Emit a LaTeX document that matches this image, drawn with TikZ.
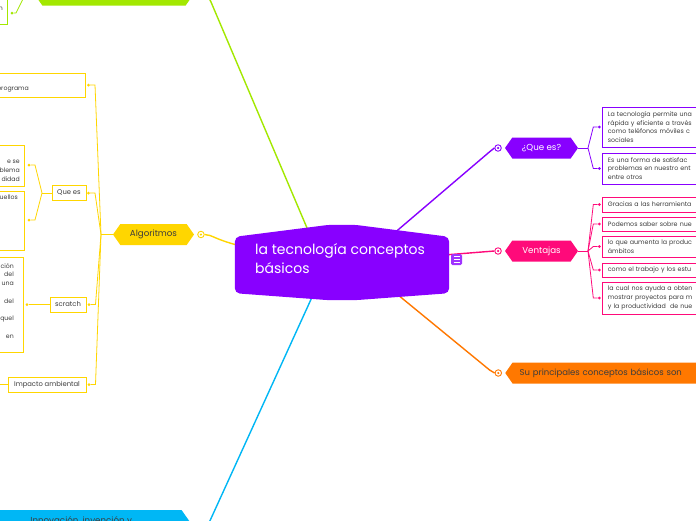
\documentclass[tikz,border=0pt]{standalone}
\usepackage{fontspec}
\setmainfont{Poppins}
\usepackage{xcolor}
\usepackage{tikz}
\usetikzlibrary{shapes.symbols, positioning, calc}

\definecolor{mmpurple}{HTML}{8800FF}
\definecolor{mmpink}{HTML}{FF0A7A}
\definecolor{mmorange}{HTML}{FF7800}
\definecolor{mmyellow}{HTML}{FFD600}
\definecolor{mmgreen}{HTML}{A3E800}
\definecolor{mmblue}{HTML}{00B7F5}
\definecolor{mmtext}{HTML}{3C3C3C}

\pgfdeclarelayer{backdrop}
\pgfdeclarelayer{background}
\pgfsetlayers{backdrop,background,main}

\begin{document}
\begin{tikzpicture}[x=1pt, y=-1pt,
    rootbox/.style={rectangle, minimum width=214pt, minimum height=56pt, inner sep=0pt},
    roottext/.style={align=left, inner sep=0pt, text=white,
                     font=\fontsize{14}{19}\selectfont},
    hub/.style={signal, signal to=east and west, signal pointer angle=110,
                fill=#1, minimum height=21pt, inner sep=2pt,
                font=\fontsize{8.7}{10}\selectfont, text=mmtext},
    subhub/.style={rectangle, draw=#1, fill=white, line width=0.8pt,
                   minimum height=14.5pt, inner sep=1pt,
                   font=\fontsize{6.8}{8}\selectfont, text=mmtext},
    leaf/.style={rectangle, draw=#1, fill=white, line width=0.8pt,
                 text width=125pt, align=left, inner xsep=5.5pt, inner ysep=0pt,
                 anchor=west, font=\fontsize{6.3}{8.8}\selectfont, text=mmtext},
    blank/.style={rectangle, draw=#1, fill=white, line width=0.8pt, inner sep=0pt},
    leaftext/.style={inner sep=0pt, align=right,
                     font=\fontsize{6.2}{8.8}\selectfont, text=mmtext},
    knob/.style={circle, draw=#1, fill=white, line width=0.9pt,
                 minimum size=6.5pt, inner sep=0pt,
                 path picture={\fill[#1] (path picture bounding box.center) circle (1.2pt);}},
    tip/.style={circle, fill=#1, minimum size=3pt, inner sep=0pt},
    link/.style={draw=#1, line width=1.4pt},
    twig/.style={draw=#1, line width=0.8pt},
  ]
    \useasboundingbox (0,0) rectangle (696,520);
    \clip (0,0) rectangle (696,520);
    \begin{pgfonlayer}{backdrop}
      \fill[white] (0,0) rectangle (696,520);
    \end{pgfonlayer}

    % ── Central topic ────────────────────────────
    \node[rootbox] (root) at (342,265) {};
    \fill[mmpurple, rounded corners=5pt] (root.north west)
      -- ($(root.north west)!0.44!(root.north east)+(0,-12)$)
      -- ($(root.north west)!0.56!(root.north east)+(0,-12)$)
      -- (root.north east) -- (root.south east)
      -- ($(root.south west)!0.56!(root.south east)+(0,7)$)
      -- ($(root.south west)!0.44!(root.south east)+(0,7)$)
      -- (root.south west) -- cycle;
    % base of a multi-line node = its last line
    \node[roottext, anchor=base west] (roottitle) at (255,273.5) {la tecnología conceptos\\básicos};
    \node[rectangle, rounded corners=1.5pt, fill=mmpurple!80!white, minimum size=11pt,
          inner sep=0pt, path picture={
            \foreach \dy in {-3,0,3}
              \draw[white, line width=0.8pt] ($(path picture bounding box.center)+(-3,\dy)$) -- ++(6,0);
          }] (menu) at (456.5,259.5) {};

    % ── Green branch (top) ───────────────────────
    \node[hub=mmgreen, minimum width=158pt] (ghub) at (114,-5) {};
    \node[knob=mmgreen, right=3pt of ghub] (gknob) {};
    \node[blank=mmgreen, anchor=south east, minimum width=50pt, minimum height=45pt] (gleaf) at (8,25) {};
    \node[leaftext, anchor=base east] (gleaftxt) at (3,10) {n};
    \node[tip=mmgreen] (gleaftip) at (12,13) {};

    % ── Algoritmos ───────────────────────────────
    \node[hub=mmyellow, minimum width=81pt] (ahub) at (153.5,234.5) {Algoritmos};
    \node[knob=mmyellow, right=3pt of ahub] (aknob) {};
    \coordinate (afork) at (101,234.5);

    \node[blank=mmyellow, anchor=east, minimum width=140pt, minimum height=24pt] (aprog) at (86,85) {};
    \node[leaftext, anchor=base east] (aprogtxt) at (29,90.5) {programa};
    \node[tip=mmyellow] (aprogtip) at (88.5,85) {};

    \node[subhub=mmyellow, minimum width=34pt] (aques) at (69,193) {Que es};
    \node[tip=mmyellow] (aquestip) at (88.5,193) {};
    \coordinate (aquesfork) at (42,193);
    \node[blank=mmyellow, anchor=east, minimum width=60pt, minimum height=41pt] (aques1) at (25,165.5) {};
    \node[leaftext, anchor=base east] (aques1txt) at (20,181.5) {e se\\blema\\didad};
    \node[tip=mmyellow] (aques1tip) at (29,165) {};
    \node[blank=mmyellow, anchor=east, minimum width=60pt, minimum height=59pt] (aques2) at (25,220.5) {};
    \node[leaftext, anchor=base east] (aques2txt) at (18,199.5) {uellos};
    \node[tip=mmyellow] (aques2tip) at (29,220) {};

    \node[subhub=mmyellow, minimum width=36pt, minimum height=15pt] (ascratch) at (68,304.5) {scratch};
    \node[tip=mmyellow] (ascratchtip) at (89,304.5) {};
    \node[blank=mmyellow, anchor=east, minimum width=60pt, minimum height=95pt] (ascr1) at (24,304.5) {};
    \node[leaftext, anchor=base east] (ascr1txt) at (14,338.5)
      {ción\\del\\una\\[8.8pt]del\\[8.8pt]quel\\[8.8pt]en};
    \node[tip=mmyellow] (ascr1tip) at (27,304.5) {};

    \node[subhub=mmyellow, minimum width=78pt, minimum height=15pt] (aimpact) at (47,384.5) {Impacto ambiental};
    \node[tip=mmyellow] (aimpacttip) at (89,384.5) {};
    \coordinate (aimpactend) at (-6,384.5);

    % ── ¿Que es? ─────────────────────────────────
    \node[hub=mmpurple, minimum width=73pt, text=white] (qhub) at (541.5,148) {¿Que es?};
    \node[knob=mmpurple, left=3pt of qhub] (qknob) {};
    \coordinate (qfork) at (588,148);
    \node[leaf=mmpurple, minimum height=40pt] (q1) at (602,127)
      {La tecnología permite una\\rápida y eficiente a través\\como teléfonos móviles c\\sociales};
    \node[leaf=mmpurple, minimum height=31pt] (q2) at (602,168.5)
      {Es una forma de satisfac\\problemas en nuestro ent\\entre otros};
    \node[tip=mmpurple, left=1pt of q1] (q1tip) {};
    \node[tip=mmpurple, left=1pt of q2] (q2tip) {};

    % ── Ventajas ─────────────────────────────────
    \node[hub=mmpink, minimum width=73pt, text=white] (vhub) at (541.5,251) {Ventajas};
    \node[knob=mmpink, left=3pt of vhub] (vknob) {};
    \coordinate (vfork) at (588,251);
    \node[leaf=mmpink, minimum height=15pt] (v1) at (602,204.5) {Gracias a las herramienta};
    \node[leaf=mmpink, minimum height=14pt] (v2) at (602,224) {Podemos saber sobre nue};
    \node[leaf=mmpink, minimum height=21pt] (v3) at (602,246.5) {lo que aumenta la produc\\ámbitos};
    \node[leaf=mmpink, minimum height=14pt] (v4) at (602,270) {como el trabajo y los estu};
    \node[leaf=mmpink, minimum height=32pt] (v5) at (602,298)
      {la cual nos ayuda a obten\\mostrar proyectos para m\\y la productividad\ \ de nue};
    \foreach \k in {1,...,5}
      \node[tip=mmpink, left=1pt of v\k] (v\k tip) {};

    % ── Conceptos ────────────────────────────────
    \node[hub=mmorange, signal to=west, anchor=west, text width=185pt, align=left,
          inner xsep=7pt, font=\fontsize{8.5}{10}\selectfont] (ohub) at (505,373)
          {Su principales conceptos básicos son};
    \node[knob=mmorange, left=3pt of ohub] (oknob) {};

    % ── Blue branch (bottom) ─────────────────────
    \node[hub=mmblue, signal to=east, anchor=east, minimum width=212pt,
          text height=8pt, text depth=14pt, inner ysep=5pt] (bhub) at (193,526) {Innovación, invención y};
    \node[knob=mmblue, right=3pt of bhub] (bknob) {};

    % ── Connectors ───────────────────────────────
    \begin{pgfonlayer}{background}
      \draw[link=mmgreen] ($(root.center)+(-32,-30)$) -- (211,2) .. controls (208,-4) .. (gknob.east);
      \draw[link=mmyellow] ($(root.west)+(10,-18)$) .. controls (215,240) and (212,234.5) .. (aknob.east);
      \draw[link=mmpurple] ($(root.center)+(50,-30)$) -- ($(qknob.west)+(-5,4)$) -- (qknob.west);
      \draw[link=mmpink] ($(root.east)+(-5,-10)$) -- (vknob.west);
      \draw[link=mmorange] ($(root.center)+(50,25)$) -- ($(oknob.west)+(-5,-3)$) -- (oknob.west);
      \draw[link=mmblue] ($(root.center)+(-29,30)$) -- ($(bknob.east)+(6,-4)$) -- (bknob.east);

      \draw[twig=mmgreen] (ghub.west) -- (23,-1) -- (16,13) -- (gleaftip);

      \draw[twig=mmyellow] (ahub.west) -- (afork);
      \foreach \t in {aprogtip, aquestip, ascratchtip, aimpacttip}
        \draw[twig=mmyellow] (afork) -- ([xshift=6.5pt]\t.center) -- (\t);
      \draw[twig=mmyellow] (aques.west) -- (aquesfork);
      \foreach \t in {aques1tip, aques2tip}
        \draw[twig=mmyellow] (aquesfork) -- ([xshift=6pt]\t.center) -- (\t);
      \draw[twig=mmyellow] (ascratch.west) -- (ascr1tip);
      \draw[twig=mmyellow] (aimpact.west) -- (aimpactend);

      \draw[twig=mmpurple] (qhub.east) -- (qfork);
      \foreach \t in {q1tip, q2tip}
        \draw[twig=mmpurple] (qfork) -- ([xshift=-6pt]\t.center) -- (\t);
      \draw[twig=mmpink] (vhub.east) -- (vfork);
      \foreach \k in {1,...,5}
        \draw[twig=mmpink] (vfork) -- ([xshift=-6pt]v\k tip.center) -- (v\k tip);
    \end{pgfonlayer}
\end{tikzpicture}
\end{document}
